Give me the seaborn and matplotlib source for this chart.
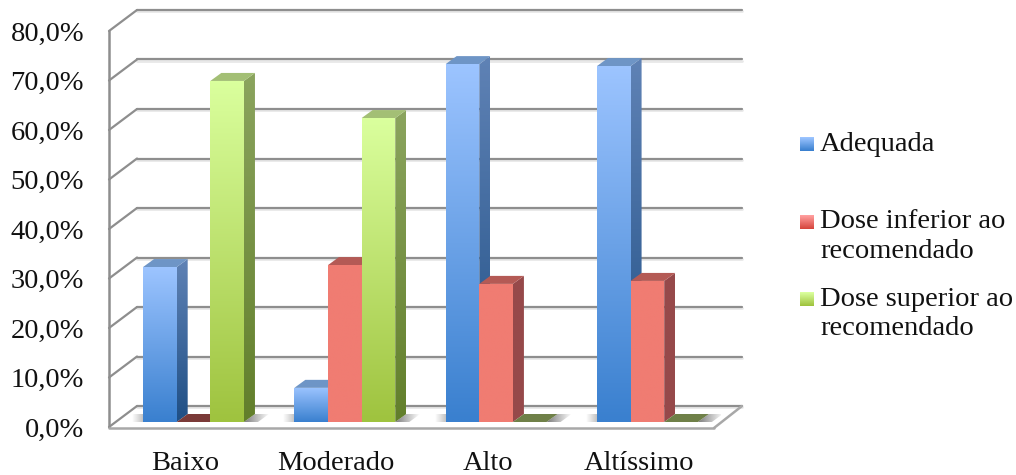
import numpy as np
import pandas as pd
import matplotlib
matplotlib.use("Agg")
import matplotlib.pyplot as plt
from matplotlib.colors import to_rgba
from matplotlib.legend_handler import HandlerBase
from matplotlib.patches import Polygon, Rectangle
from matplotlib.transforms import ScaledTranslation
import seaborn as sns

# Dose adequacy by cardiovascular risk level (percent)
risk_levels = ["Baixo", "Moderado", "Alto", "Altíssimo"]
adequada = [31.3, 6.9, 72.3, 71.9]
dose_inferior = [0.0, 31.7, 27.9, 28.5]
dose_superior = [68.9, 61.4, 0.0, 0.0]
series_labels = ["Adequada", "Dose inferior ao\nrecomendado", "Dose superior ao\nrecomendado"]
y_ticks = list(range(0, 90, 10))

# Face colours per series: (front top, front bottom), (side top, side bottom), top, flat top
front_colors = [("#9CC4FF", "#3A80CF"), ("#F07C72", "#F07C72"), ("#DAFF9D", "#9FC33F")]
side_colors = [("#5F82B5", "#1F4F85"), ("#96494A", "#96494A"), ("#8BA45E", "#627F2B")]
top_colors = ["#6E95C6", "#B45A55", "#A3BF75"]
floor_colors = ["#3F6595", "#7A3A38", "#6F8048"]
legend_colors = [("#9CC4FF", "#3A80CF"), ("#FF9E9E", "#D6473E"), ("#DAFF9D", "#9FC33F")]

GRID = "#8E8E8E"
SOFT = "#E8E8E8"
FONT = "Liberation Serif"
FONT_SIZE = 20.5

sns.set_style("white")
plt.rcParams["font.family"] = [FONT, "DejaVu Serif"]

W, H = 1016, 475
DPI = 100
fig = plt.figure(figsize=(W / DPI, H / DPI), dpi=DPI, facecolor="white")

# The axes rectangle is the plane of the bar fronts, in the middle of the 3D box
AX_L, AX_R, AX_B, AX_T = 116, 721, 422, 26
ax = fig.add_axes([AX_L / W, (H - AX_B) / H, (AX_R - AX_L) / W, (AX_B - AX_T) / H])

table = pd.DataFrame({
    "risco": risk_levels * 3,
    "valor": adequada + dose_inferior + dose_superior,
    "tipo": sum([[s] * len(risk_levels) for s in series_labels], []),
})
sns.barplot(data=table, x="risco", y="valor", hue="tipo", hue_order=series_labels,
            palette=[c[1] for c in front_colors], width=0.667, gap=0, dodge=True,
            legend=False, ax=ax, linewidth=0, zorder=5)

px_per_cat = 151.3
center0 = 193.5
ax.set_xlim((AX_L - center0) / px_per_cat, (AX_R - center0) / px_per_cat)
ax.set_ylim(0, 80)
ax.set_xlabel("")
ax.set_ylabel("")
sns.despine(ax=ax, left=True, bottom=True)
ax.grid(False)
ax.patch.set_alpha(0)

ux = 1 / px_per_cat          # data units per pixel, horizontally
uy = 80 / (AX_B - AX_T)      # data units per pixel, vertically
x0, x1 = ax.get_xlim()


def wall_line(xs, ys, color=GRID, lw=1.6, z=1):
    ax.plot(xs, ys, color=color, lw=lw, clip_on=False, zorder=z, solid_capstyle="round")


def gradient(verts, top, bottom, z):
    """Fill a polygon with a vertical colour ramp."""
    verts = np.asarray(verts)
    ramp = np.linspace(to_rgba(top), to_rgba(bottom), 64)[:, None, :]
    im = ax.imshow(ramp, extent=[verts[:, 0].min(), verts[:, 0].max(),
                                 verts[:, 1].min(), verts[:, 1].max()],
                   origin="upper", aspect="auto", interpolation="bilinear", zorder=z)
    im.set_clip_path(Polygon(verts, transform=ax.transData))


def fade(verts, start_alpha, end_alpha, z=2):
    """Fill a polygon with a horizontal fading grey, used for floor shadows."""
    verts = np.asarray(verts)
    ramp = np.zeros((1, 64, 4)) + [0.4, 0.4, 0.4, 0]
    ramp[0, :, 3] = np.linspace(start_alpha, end_alpha, 64)
    im = ax.imshow(ramp, extent=[verts[:, 0].min(), verts[:, 0].max(),
                                 verts[:, 1].min(), verts[:, 1].max()],
                   origin="lower", aspect="auto", interpolation="bilinear", zorder=z)
    im.set_clip_path(Polygon(verts, transform=ax.transData))


# Box: back wall grid, left wall and floor
fx, fy = -7 * ux, -5 * uy     # front edge of the box
bx, by = 21 * ux, 16 * uy     # back wall
for tick in y_ticks:
    wall_line([x0 + bx, x1 + bx], [tick + by - 1 * uy] * 2, color=SOFT, lw=2.0, z=0.5)
    wall_line([x0 + bx, x1 + bx], [tick + by] * 2)
    wall_line([x0 + fx, x0 + bx], [tick + fy, tick + by])
wall_line([x0 + fx, x0 + fx], [fy, 80 + fy], lw=1.8)
wall_line([x0 + fx, x1 + fx], [fy - 1 * uy] * 2, color="#A8A8A8", lw=1.8)
wall_line([x1 + fx, x1 + bx], [fy - 1 * uy, by], color="#A8A8A8", lw=1.8)

# Bar depth
dx, dy = 11 * ux, 8 * uy

# Floor shadows on both sides of every cluster
for i in range(len(risk_levels)):
    lefts = [c[i].get_x() for c in ax.containers]
    rights = [c[i].get_x() + c[i].get_width() for c in ax.containers]
    g0, g1 = min(lefts), max(rights)
    fade([(g0 - 11 * ux, 0), (g0, 0), (g0 + dx, dy), (g0 - 11 * ux, dy)], 0.0, 0.8)
    fade([(g1, 0), (g1 + 14 * ux, 0), (g1 + 25 * ux, dy), (g1 + dx, dy)], 0.85, 0.0)

# Extrude the bars: each one stacks above the series before it
for s, container in enumerate(ax.containers):
    for patch in container:
        x, w, v = patch.get_x(), patch.get_width(), patch.get_height()
        z = 5 + s * 3 + 0.01 * patch.get_x()
        patch.set_zorder(z)
        if v <= 0:
            ax.add_patch(Polygon([(x, 0), (x + w, 0), (x + w + dx, dy), (x + dx, dy)],
                                 closed=True, facecolor=floor_colors[s], edgecolor="none", zorder=z))
            continue
        gradient([(x, 0), (x + w, 0), (x + w, v), (x, v)], *front_colors[s], z=z + 1)
        gradient([(x + w, 0), (x + w + dx, dy), (x + w + dx, v + dy), (x + w, v)],
                 *side_colors[s], z=z)
        ax.add_patch(Polygon([(x, v), (x + w, v), (x + w + dx, v + dy), (x + dx, v + dy)],
                             closed=True, facecolor=top_colors[s], edgecolor="none", zorder=z))

ax.set_xlim(x0, x1)
ax.set_ylim(0, 80)

# Tick labels sit on the front edge of the box
ax.set_yticks(y_ticks)
ax.set_yticklabels([f"{t},0%" for t in y_ticks])
ax.tick_params(axis="both", length=0, labelsize=FONT_SIZE, colors="#111111")
ax.tick_params(axis="y", pad=23)
ax.tick_params(axis="x", pad=21)
for label in ax.get_yticklabels():
    label.set_transform(label.get_transform() + ScaledTranslation(0, -5 / DPI, fig.dpi_scale_trans))
for label in ax.get_xticklabels():
    label.set_transform(label.get_transform() + ScaledTranslation(-8.5 / DPI, 0, fig.dpi_scale_trans))


class RampHandle(HandlerBase):
    """Legend key: a small square with a vertical colour ramp, level with the first text line."""

    def __init__(self, colors):
        super().__init__()
        self.colors = colors

    def create_artists(self, legend, orig_handle, xdescent, ydescent, width, height, fontsize, trans):
        side = 14 * 0.72
        lift = 12.5
        n = 14
        ramp = np.linspace(to_rgba(self.colors[0]), to_rgba(self.colors[1]), n)
        return [Rectangle((0, lift + side * (n - 1 - k) / n), side, side / n + 0.1,
                          facecolor=ramp[k], edgecolor="none", transform=trans)
                for k in range(n)]


proxies = [Rectangle((0, 0), 1, 1) for _ in series_labels]
legend_labels = [series_labels[0] + "\n"] + series_labels[1:]
leg = ax.legend(proxies, legend_labels,
                handler_map={p: RampHandle(c) for p, c in zip(proxies, legend_colors)},
                loc="upper left", bbox_to_anchor=(800 / W, 1 - 132 / H),
                bbox_transform=fig.transFigure, frameon=False, borderpad=0, borderaxespad=0,
                fontsize=FONT_SIZE, labelspacing=0.8, handlelength=0.49, handleheight=0.5,
                handletextpad=0.21)
for text in leg.get_texts():
    text.set_color("#111111")
    text.set_linespacing(1.24)
leg.set_zorder(30)

fig.savefig("out.png", dpi=DPI, facecolor="white")
